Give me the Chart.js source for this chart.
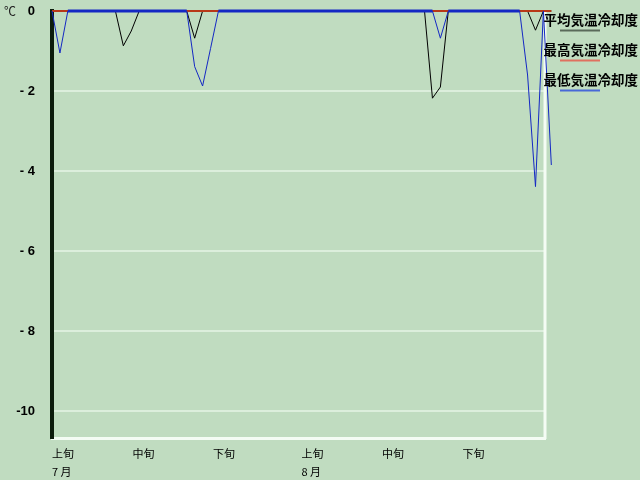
<!DOCTYPE html>
<html>
<head>
<meta charset="utf-8">
<script src="https://cdn.jsdelivr.net/npm/chart.js@4.4.1/dist/chart.umd.min.js"></script>
<style>
  html, body { margin: 0; padding: 0; background: #C0DCC0; }
  canvas { display: block; }
</style>
</head>
<body>
<canvas id="chart" width="640" height="480"></canvas>
<script>
// one value per day, index 0 = 7/1
const meanCooling = [
    0, 0, 0, 0, 0, 0, 0, 0,
    0, -0.87, -0.5, 0, 0, 0, 0, 0,
    0, 0, -0.68, 0, 0, 0, 0, 0,
    0, 0, 0, 0, 0, 0, 0, 0,
    0, 0, 0, 0, 0, 0, 0, 0,
    0, 0, 0, 0, 0, 0, 0, 0,
    -2.18, -1.9, 0, 0, 0, 0, 0, 0,
    0, 0, 0, 0, 0, -0.48, 0, 0
];
const maxCooling = [
    0, 0, 0, 0, 0, 0, 0, 0,
    0, 0, 0, 0, 0, 0, 0, 0,
    0, 0, 0, 0, 0, 0, 0, 0,
    0, 0, 0, 0, 0, 0, 0, 0,
    0, 0, 0, 0, 0, 0, 0, 0,
    0, 0, 0, 0, 0, 0, 0, 0,
    0, 0, 0, 0, 0, 0, 0, 0,
    0, 0, 0, 0, 0, 0, 0, 0
];
const minCooling = [
    0, -1.05, 0, 0, 0, 0, 0, 0,
    0, 0, 0, 0, 0, 0, 0, 0,
    0, 0, -1.39, -1.875, -0.94, 0, 0, 0,
    0, 0, 0, 0, 0, 0, 0, 0,
    0, 0, 0, 0, 0, 0, 0, 0,
    0, 0, 0, 0, 0, 0, 0, 0,
    0, -0.68, 0, 0, 0, 0, 0, 0,
    0, 0, 0, 0, -1.6, -4.39, 0, -3.85
];

const tickDays = [0, 10, 20, 31, 41, 51];
const periodLabels = ['上旬', '中旬', '下旬', '上旬', '中旬', '下旬'];
const monthLabels = ['7 月', '', '', '8 月', '', ''];
const yTicks = [0, -2, -4, -6, -8, -10];
const seriesNames = ['平均気温冷却度', '最高気温冷却度', '最低気温冷却度'];
const legendColors = ['#5A6A5A', '#E07060', '#4868D8'];

function toPoints(arr) {
    return arr.map((v, i) => ({ x: i, y: v }));
}

// thick line where the series sits on 0
function flatWidth(thick) {
    return ctx => (ctx.p0.parsed.y === 0 && ctx.p1.parsed.y === 0) ? thick : 1;
}

const decor = {
    id: 'decor',
    beforeDraw(chart) {
        const c = chart.ctx;
        c.save();
        c.fillStyle = '#C0DCC0';
        c.fillRect(0, 0, chart.width, chart.height);
        c.restore();
    },
    beforeDatasetsDraw(chart) {
        const c = chart.ctx;
        const a = chart.chartArea;
        c.save();
        c.strokeStyle = '#F4FCF4';
        c.lineWidth = 3;
        c.beginPath();
        c.moveTo(a.right, a.top);
        c.lineTo(a.right, a.bottom + 1);
        c.stroke();
        c.restore();
    },
    afterDraw(chart) {
        const c = chart.ctx;
        c.save();
        c.fillStyle = '#202020';
        c.font = '12px "Noto Sans CJK JP"';
        c.textAlign = 'left';
        c.textBaseline = 'middle';
        c.fillText('℃', 4, 11);

        c.font = 'bold 13.5px "Noto Sans CJK JP"';
        c.textAlign = 'right';
        seriesNames.forEach((name, i) => {
            c.fillStyle = '#000';
            c.fillText(name, 638, 20 + i * 30);
            c.strokeStyle = legendColors[i];
            c.lineWidth = 2;
            c.beginPath();
            c.moveTo(560, 30.5 + i * 30);
            c.lineTo(600, 30.5 + i * 30);
            c.stroke();
        });
        c.restore();
    }
};

new Chart(document.getElementById('chart'), {
    type: 'line',
    data: {
        datasets: [
            {
                label: seriesNames[0],
                data: toPoints(meanCooling),
                borderColor: '#000000',
                borderWidth: 1,
                order: 2
            },
            {
                label: seriesNames[1],
                data: toPoints(maxCooling),
                borderColor: '#B83818',
                borderWidth: 2,
                order: 1
            },
            {
                label: seriesNames[2],
                data: toPoints(minCooling),
                borderColor: '#1428C4',
                borderWidth: 1,
                segment: { borderWidth: flatWidth(3) },
                order: 0
            }
        ]
    },
    options: {
        responsive: false,
        animation: false,
        clip: false,
        elements: {
            point: { radius: 0 },
            line: { tension: 0 }
        },
        layout: { padding: { top: 11, right: 95, left: 0, bottom: 0 } },
        plugins: {
            legend: { display: false },
            tooltip: { enabled: false }
        },
        scales: {
            x: {
                type: 'linear',
                min: 0,
                max: 62.2,
                display: false
            },
            xl: {
                type: 'linear',
                position: 'bottom',
                min: 0,
                max: 61.25,
                afterFit: scale => {
                    scale.height = 42;
                    scale.paddingLeft = 0;
                    scale.paddingRight = 0;
                },
                afterBuildTicks: scale => {
                    scale.ticks = tickDays.map(v => ({ value: v }));
                },
                grid: { display: false, drawTicks: false },
                border: { display: true, color: '#F4FCF4', width: 3 },
                ticks: {
                    autoSkip: false,
                    maxRotation: 0,
                    align: 'start',
                    padding: 7,
                    color: '#000',
                    font: { family: '"Noto Sans CJK JP"', size: 11, lineHeight: 1.64 },
                    callback: (value, index) => [periodLabels[index], monthLabels[index]]
                }
            },
            y: {
                min: -10.675,
                max: 0,
                afterFit: scale => {
                    scale.width = 52;
                    scale.paddingTop = 0;
                    scale.paddingBottom = 0;
                },
                afterBuildTicks: scale => {
                    scale.ticks = yTicks.map(v => ({ value: v }));
                },
                grid: { color: '#DCEEDC', lineWidth: 2, drawTicks: false },
                border: { display: true, color: '#0C1C0C', width: 4 },
                ticks: {
                    padding: 17,
                    color: '#000',
                    font: { family: '"Liberation Sans"', size: 13, weight: 'bold' },
                    callback: v => v === 0 ? '0' : (v > -10 ? '- ' + (-v) : String(v))
                }
            }
        }
    },
    plugins: [decor]
});
</script>
</body>
</html>
